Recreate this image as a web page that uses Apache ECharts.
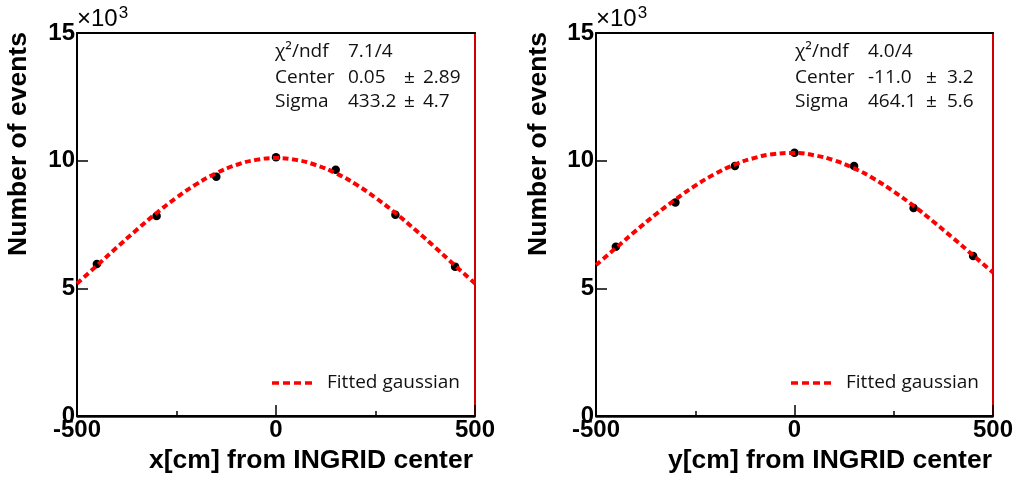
<!DOCTYPE html>
<html>
<head>
<meta charset="utf-8">
<script src="https://cdn.jsdelivr.net/npm/echarts@6/dist/echarts.min.js"></script>
<style>
html,body{margin:0;padding:0;background:#fff;}
#chart{width:1017px;height:481px;}
</style>
</head>
<body>
<div id="chart"></div>
<script>
// ---- data (values in units of 10^3 events) ----
const pointX = [-450, -300, -150, 0, 150, 300, 450];
const leftPoints = [5.95, 7.83, 9.37, 10.13, 9.64, 7.88, 5.85];
const rightPoints = [6.63, 8.36, 9.79, 10.31, 9.79, 8.15, 6.27];

const curveX = [-500, -450, -400, -350, -300, -250, -200, -150, -100, -50, 0, 50, 100, 150, 200, 250, 300, 350, 400, 450, 500];
const leftCurve = [5.19, 5.89, 6.60, 7.29, 7.95, 8.55, 9.08, 9.51, 9.83, 10.03, 10.10, 10.03, 9.83, 9.51, 9.08, 8.55, 7.95, 7.29, 6.60, 5.89, 5.19];
const rightCurve = [5.91, 6.58, 7.25, 7.89, 8.48, 9.02, 9.48, 9.85, 10.11, 10.26, 10.30, 10.21, 10.01, 9.70, 9.29, 8.79, 8.23, 7.61, 6.96, 6.29, 5.62];

const xTitles = ['x[cm] from INGRID center', 'y[cm] from INGRID center'];
const yTitle = 'Number of events';
const legendName = 'Fitted gaussian';
const scaleBase = '×10';
const scaleExp = '3';
const statsLeft = [['χ²/ndf', '7.1/4', '', ''], ['Center', '0.05', '±', '2.89'], ['Sigma', '433.2', '±', '4.7']];
const statsRight = [['χ²/ndf', '4.0/4', '', ''], ['Center', '-11.0', '±', '3.2'], ['Sigma', '464.1', '±', '5.6']];

// ---- chart ----
const chart = echarts.init(document.getElementById('chart'), null, {renderer: 'canvas'});
const boldFont = 'Liberation Sans';
const statFont = 'Open Sans';

const grids = [
  {left: 77, top: 33, width: 398, height: 383},
  {left: 596, top: 33, width: 397, height: 383}
];

function mainX(i) {
  return {
    type: 'value', gridIndex: i, min: -500, max: 500, interval: 500,
    axisLine: {show: true, onZero: false, lineStyle: {color: '#000', width: 2}},
    axisTick: {show: true, inside: true, length: 11, lineStyle: {color: '#000', width: 1.5}},
    minorTick: {show: true, splitNumber: 2, length: 5, lineStyle: {color: '#000', width: 1.5}},
    splitLine: {show: false}, minorSplitLine: {show: false},
    axisLabel: {show: true, margin: 2, color: '#000', fontFamily: boldFont, fontWeight: 'bold', fontSize: 24,
      formatter: v => String(v)}
  };
}
function frameX(i, pos, color, offset, width) {
  return {
    type: 'value', gridIndex: i, min: -500, max: 500, position: pos, offset: offset,
    axisLine: {show: true, onZero: false, lineStyle: {color: color, width: width}},
    axisTick: {show: false}, axisLabel: {show: false}, splitLine: {show: false}
  };
}
function mainY(i) {
  return {
    type: 'value', gridIndex: i, min: 0, max: 15, interval: 5,
    axisLine: {show: true, onZero: false, lineStyle: {color: '#000', width: 2}},
    axisTick: {show: true, inside: true, length: 11, lineStyle: {color: '#000', width: 1.5}},
    splitLine: {show: false},
    axisLabel: {show: true, margin: 2, color: '#000', fontFamily: boldFont, fontWeight: 'bold', fontSize: 24}
  };
}
function frameY(i, color, width) {
  return {
    type: 'value', gridIndex: i, min: 0, max: 15, position: 'right',
    axisLine: {show: true, onZero: false, lineStyle: {color: color, width: width}},
    axisTick: {show: false}, axisLabel: {show: false}, splitLine: {show: false}
  };
}

const xAxes = [mainX(0), mainX(1),
  frameX(0, 'top', '#000', 0, 2), frameX(1, 'top', '#000', 0, 2),
  frameX(0, 'bottom', '#ff0000', 1, 1.2), frameX(1, 'bottom', '#ff0000', 1, 1.2)];
const yAxes = [mainY(0), mainY(1), frameY(0, '#d00000', 2), frameY(1, '#d00000', 2)];

function pairs(xs, ys) { return xs.map((x, k) => [x, ys[k]]); }

function curveSeries(i, ys) {
  return {
    type: 'line', name: legendName, xAxisIndex: i, yAxisIndex: i,
    data: pairs(curveX, ys), smooth: true, symbol: 'none', showSymbol: false,
    lineStyle: {color: '#ff0000', width: 4, type: [6, 3.5]},
    itemStyle: {color: '#ff0000'}, z: 3, silent: true
  };
}
function pointSeries(i, ys) {
  return {
    type: 'scatter', name: 'data', xAxisIndex: i, yAxisIndex: i,
    data: pairs(pointX, ys), symbol: 'circle', symbolSize: 8.5,
    itemStyle: {color: '#000', opacity: 1}, z: 2, silent: true
  };
}

const graphics = [];
function statsBlock(rows, xs) {
  const ys = [52, 78, 102];
  rows.forEach((r, k) => {
    r.forEach((t, j) => {
      if (!t) return;
      graphics.push({type: 'text', x: xs[j], y: ys[k],
        style: {text: t, fontFamily: statFont, fontSize: 19, fill: '#111', align: 'left', verticalAlign: 'middle'}});
    });
  });
}
statsBlock(statsLeft, [275, 348, 404, 423]);
statsBlock(statsRight, [795, 868, 926, 947]);

const baseSize = 24;
const mctx = document.createElement('canvas').getContext('2d');
mctx.font = baseSize + 'px "Liberation Sans"';
const baseW = mctx.measureText(scaleBase).width;

[[77, 475], [596, 993]].forEach(([x0, x1], i) => {
  graphics.push({type: 'text', x: x0, y: 31,
    style: {text: scaleBase, fontFamily: boldFont, fontSize: baseSize, fill: '#000', verticalAlign: 'bottom', align: 'left'}});
  graphics.push({type: 'text', x: x0 + baseW + 1, y: 22,
    style: {text: scaleExp, fontFamily: boldFont, fontSize: 17, fill: '#000', verticalAlign: 'bottom', align: 'left'}});
  // y title
  graphics.push({type: 'text', x: i === 0 ? 19 : 539, y: 144, rotation: Math.PI / 2,
    style: {text: yTitle, fontFamily: boldFont, fontWeight: 'bold', fontSize: 26.5, fill: '#000',
      align: 'center', verticalAlign: 'middle'}});
  // x title
  graphics.push({type: 'text', x: i === 0 ? 473 : 992, y: 461,
    style: {text: xTitles[i], fontFamily: boldFont, fontWeight: 'bold', fontSize: 26.5, fill: '#000',
      align: 'right', verticalAlign: 'middle'}});
  // legend: dashed sample + label
  const lx = i === 0 ? 272 : 791;
  graphics.push({type: 'line', shape: {x1: lx, y1: 383, x2: lx + 42, y2: 383},
    style: {stroke: '#ff0000', lineWidth: 3.5, lineDash: [7, 4]}});
  graphics.push({type: 'text', x: lx + 55, y: 383,
    style: {text: legendName, fontFamily: statFont, fontSize: 19, fill: '#111', align: 'left', verticalAlign: 'middle'}});
});

const option = {
  backgroundColor: '#fff',
  animation: false,
  grid: grids,
  xAxis: xAxes,
  yAxis: yAxes,
  series: [curveSeries(0, leftCurve), curveSeries(1, rightCurve), pointSeries(0, leftPoints), pointSeries(1, rightPoints)],
  graphic: graphics
};
chart.setOption(option);
</script>
</body>
</html>
